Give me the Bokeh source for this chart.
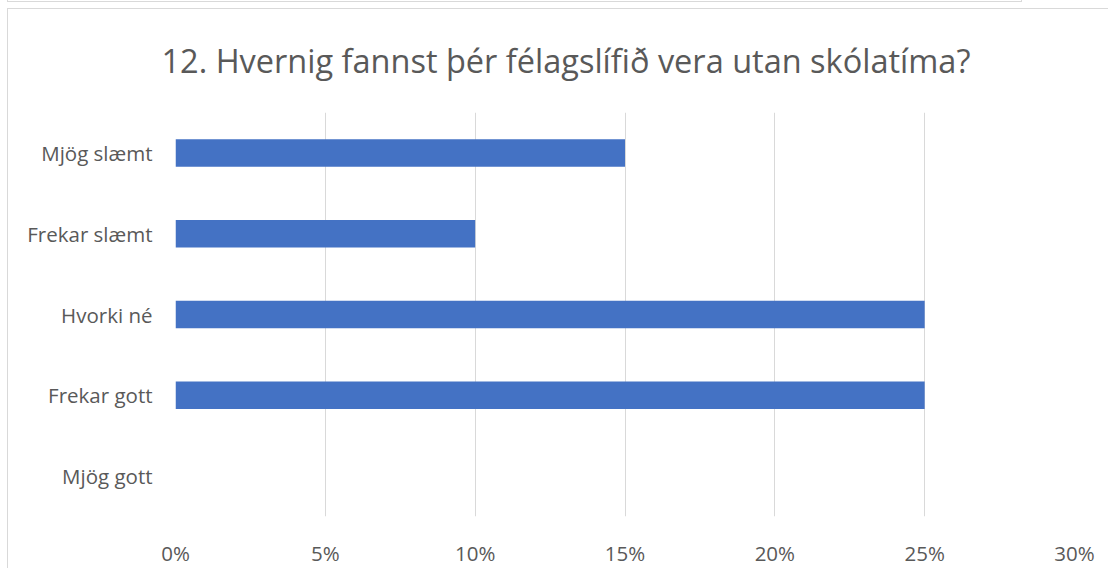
from bokeh.plotting import figure
from bokeh.models import (Range1d, FactorRange, NumeralTickFormatter, FixedTicker,
                          ColumnDataSource, Div)
from bokeh.layouts import column
from bokeh.embed import file_html
from bokeh.resources import INLINE

# ---- data ----
categories = ["Mjög slæmt", "Frekar slæmt", "Hvorki né", "Frekar gott", "Mjög gott"]
values = [0.15, 0.10, 0.25, 0.25, 0.0]
ticks = [0.0, 0.05, 0.10, 0.15, 0.20, 0.25, 0.30]
title_text = "12. Hvernig fannst þér félagslífið vera utan skólatíma?"

FONT = "Open Sans"
GREY_TEXT = "#595959"
GRID = "#d9d9d9"
FRAME = "#d9d9d9"
BAR = "#4472C4"

src = ColumnDataSource(dict(cat=categories, val=values))

p = figure(
    width=1101, height=560,
    output_backend="svg", toolbar_location=None,
    y_range=FactorRange(factors=list(reversed(categories)), range_padding=0),
    x_range=Range1d(ticks[0], ticks[-1]),
    min_border_left=167, min_border_right=35, min_border_top=102, min_border_bottom=46,
    title=title_text,
)
p.styles = {"border-left": f"1px solid {FRAME}", "border-top": f"1px solid {FRAME}",
            "margin-left": "7px", "margin-top": "1px"}

p.hbar(y="cat", right="val", left=0, height=0.34, source=src, color=BAR, line_color=None)

p.outline_line_color = None
p.background_fill_color = "white"
p.border_fill_color = "white"

p.title.text_font = FONT
p.title.text_font_size = "32.5px"
p.title.text_font_style = "normal"
p.title.text_color = GREY_TEXT
p.title.align = "left"
p.title.offset = -14
p.title.vertical_align = "top"
p.title.standoff = 56

# x axis
p.xaxis.ticker = FixedTicker(ticks=ticks)
p.xaxis.formatter = NumeralTickFormatter(format="0%")
p.xaxis.axis_line_color = None
p.xaxis.major_tick_line_color = None
p.xaxis.minor_tick_line_color = None
p.xaxis.major_label_text_font = FONT
p.xaxis.major_label_text_font_size = "20.5px"
p.xaxis.major_label_text_color = GREY_TEXT
p.xaxis.major_label_standoff = 16

# y axis
p.yaxis.axis_line_color = None
p.yaxis.major_tick_line_color = None
p.yaxis.minor_tick_line_color = None
p.yaxis.major_label_text_font = FONT
p.yaxis.major_label_text_font_size = "20.5px"
p.yaxis.major_label_text_color = GREY_TEXT
p.yaxis.major_label_standoff = 17

p.xgrid.grid_line_color = GRID
p.xgrid.grid_line_width = 1
p.ygrid.grid_line_color = None

top_box = Div(text="", width=1015, height=6,
              styles={"border-left": f"1px solid {FRAME}", "border-right": f"1px solid {FRAME}",
                      "border-bottom": f"1px solid {FRAME}", "margin-left": "7px",
                      "margin-top": "-4px", "box-sizing": "border-box"})

layout = column(top_box, p, spacing=0)

open("out.html", "w").write(file_html(layout, INLINE))
